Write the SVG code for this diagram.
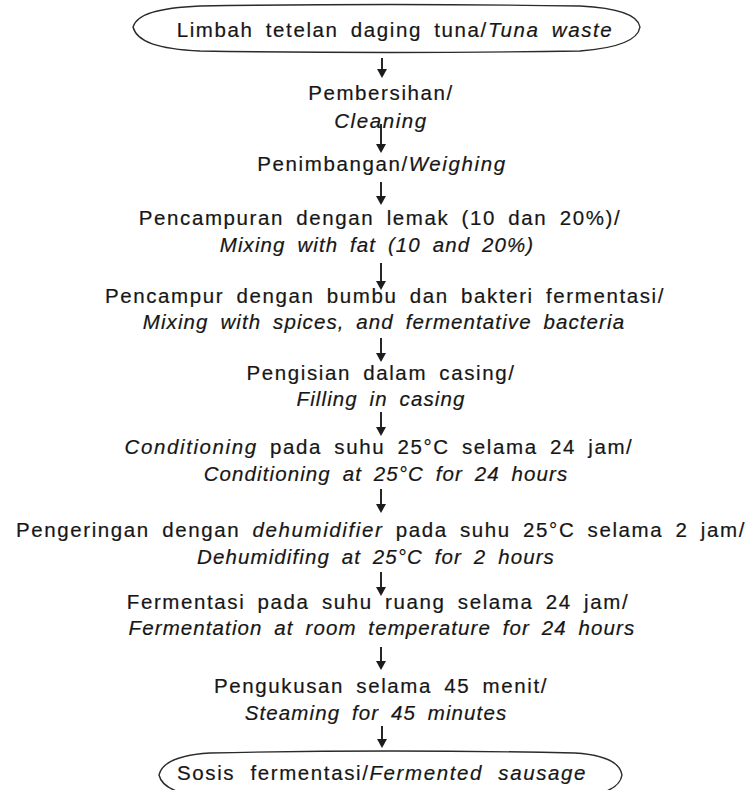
<svg xmlns="http://www.w3.org/2000/svg" width="753" height="790" viewBox="0 0 753 790">
<defs>
<style>
text{font-family:"Liberation Sans",Arial,sans-serif;font-size:20.5px;fill:#161616;stroke:#161616;stroke-width:0.2px;text-anchor:middle;letter-spacing:1.6px;word-spacing:5px}
.i{font-style:italic}
.en{letter-spacing:1.1px}
.term{fill:none;stroke:#2a2a2a;stroke-width:1.4}
.ln{stroke:#1c1c1c;stroke-width:1.9;fill:none}
.hd{fill:#1c1c1c}
</style>
</defs>
<rect width="753" height="790" fill="#ffffff"/>
<g id="n0">
<path class="term" d="M133,27 C137,14 158,8 200,6 Q390,3 580,6 C620,8 638,15 640,27 C638,40 620,48 580,51 Q390,54 200,51 C158,49 137,42 133,27 Z"/>
<text x="395" y="37">Limbah tetelan daging tuna/<tspan class="i">Tuna waste</tspan></text>
</g>
<g id="n1"><text x="381" y="100">Pembersihan/</text><text x="381" y="128" class="i">Cleaning</text></g>
<g id="n2"><text x="382" y="171">Penimbangan/<tspan class="i">Weighing</tspan></text></g>
<g id="n3"><text x="380" y="225">Pencampuran dengan lemak (10 dan 20%)/</text><text x="377" y="252" class="i en">Mixing with fat (10 and 20%)</text></g>
<g id="n4"><text x="385" y="303">Pencampur dengan bumbu dan bakteri fermentasi/</text><text x="384" y="329" class="i en">Mixing with spices, and fermentative bacteria</text></g>
<g id="n5"><text x="381" y="380">Pengisian dalam casing/</text><text x="381" y="406" class="i en">Filling in casing</text></g>
<g id="n6"><text x="379" y="454"><tspan class="i">Conditioning</tspan> pada suhu 25°C selama 24 jam/</text><text x="386" y="481" class="i en">Conditioning at 25°C for 24 hours</text></g>
<g id="n7"><text x="381" y="537">Pengeringan dengan <tspan class="i">dehumidifier</tspan> pada suhu 25°C selama 2 jam/</text><text x="376" y="564" class="i en">Dehumidifing at 25°C for 2 hours</text></g>
<g id="n8"><text x="378" y="609">Fermentasi pada suhu ruang selama 24 jam/</text><text x="382" y="635" class="i en">Fermentation at room temperature for 24 hours</text></g>
<g id="n9"><text x="381" y="693">Pengukusan selama 45 menit/</text><text x="376" y="720" class="i en">Steaming for 45 minutes</text></g>
<g id="n10">
<path class="term" d="M159,775 C162,762 178,755 210,753 Q390,749 575,753 C605,755 620,762 622,775 C620,788 605,795 575,797 Q390,801 210,797 C178,795 162,788 159,775 Z"/>
<text x="382" y="780" style="word-spacing:8px">Sosis fermentasi/<tspan class="i">Fermented sausage</tspan></text>
</g>
<g id="connectors">
<path class="ln" d="M382,58 V70"/><path class="hd" d="M377,69 L387,69 L382,78 Z"/>
<path class="ln" d="M381,124 V145"/><path class="hd" d="M376,144 L386,144 L381,153 Z"/>
<path class="ln" d="M381,182 V197"/><path class="hd" d="M376,196 L386,196 L381,205 Z"/>
<path class="ln" d="M381,263 V282"/><path class="hd" d="M376,281 L386,281 L381,290 Z"/>
<path class="ln" d="M381,338 V354"/><path class="hd" d="M376,353 L386,353 L381,362 Z"/>
<path class="ln" d="M381,412 V428"/><path class="hd" d="M376,427 L386,427 L381,436 Z"/>
<path class="ln" d="M381,489 V505"/><path class="hd" d="M376,504 L386,504 L381,513 Z"/>
<path class="ln" d="M381,572 V588"/><path class="hd" d="M376,587 L386,587 L381,596 Z"/>
<path class="ln" d="M381,647 V662"/><path class="hd" d="M376,661 L386,661 L381,670 Z"/>
<path class="ln" d="M382,726 V740"/><path class="hd" d="M377,739 L387,739 L382,748 Z"/>
</g>
</svg>
